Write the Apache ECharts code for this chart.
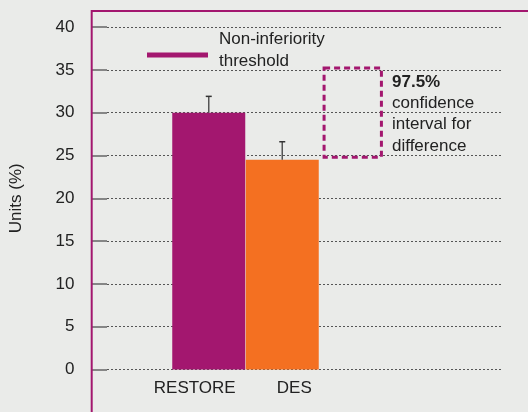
<!DOCTYPE html>
<html><head><meta charset="utf-8">
<script src="https://cdn.jsdelivr.net/npm/echarts@6/dist/echarts.min.js"></script>
<style>html,body{margin:0;padding:0;background:#eaebe9}#c{width:528px;height:412px}</style>
</head><body><div id="c"></div>
<script>
// ---- data ----
const categories = ['RESTORE', 'DES', ''];
const barValues = [30, 24.5];
const errorUpper = [31.9, 26.6];
const ciBox = [24.8, 35.2];           // 97.5% CI box (low, high), drawn in the empty third category
const yMin = 0, yMax = 40, yInterval = 5;
const legendLines = ['Non-inferiority', 'threshold'];
const noteLines = ['97.5%', 'confidence', 'interval for', 'difference'];
const yTitle = 'Units (%)';

// ---- styles ----
const MAGENTA = '#a3176f', ORANGE = '#f47021', TXT = '#222';
const FONT = 'Liberation Sans, Arial, Helvetica, sans-serif';
const barColors = [MAGENTA, ORANGE];
const labelPads = [[0, 28, 0, 0], [0, 0, 0, 24], [0, 0, 0, 0]];

const chart = echarts.init(document.getElementById('c'), null, {renderer: 'canvas'});

const option = {
  backgroundColor: '#eaebe9',
  animation: false,
  grid: [
    {left: 102, right: 26, top: 27, bottom: 42.5},
    {left: 172, width: 220.5, top: 27, bottom: 42.5}
  ],
  xAxis: [
    {type: 'value', gridIndex: 0, show: false, min: 0, max: 1},
    {type: 'category', gridIndex: 1,
     data: categories.map((c, i) => ({value: c, textStyle: {padding: labelPads[i]}})),
     axisLine: {show: false}, axisTick: {show: false},
     axisLabel: {fontSize: 17, color: TXT, fontFamily: FONT, margin: 10, interval: 0}}
  ],
  yAxis: [
    {type: 'value', gridIndex: 0, min: yMin, max: yMax, interval: yInterval, offset: 11,
     name: yTitle, nameLocation: 'middle', nameGap: 71, nameRotate: 90,
     nameTextStyle: {fontSize: 17, color: TXT, fontFamily: FONT},
     axisLine: {show: false},
     axisTick: {show: true, length: 15, lineStyle: {color: '#666', width: 1.5}},
     axisLabel: {fontSize: 17, color: TXT, fontFamily: FONT, margin: 21.5},
     splitLine: {show: true, lineStyle: {color: '#555', width: 1, type: [2, 2]}}},
    {type: 'value', gridIndex: 1, min: yMin, max: yMax, interval: yInterval, show: false,
     splitLine: {show: false}}
  ],
  series: [
    {type: 'bar', xAxisIndex: 1, yAxisIndex: 1, barWidth: 73, z: 2,
     data: barValues.map((v, i) => ({value: v, itemStyle: {color: barColors[i]}}))},
    {type: 'custom', xAxisIndex: 1, yAxisIndex: 1, z: 5,
     data: barValues.map((v, i) => [i, v, errorUpper[i]]),
     renderItem: function (params, api) {
       const x = api.value(0);
       const p1 = api.coord([x, api.value(1)]);
       const p2 = api.coord([x, api.value(2)]);
       return {type: 'group', children: [
         {type: 'line', shape: {x1: p1[0], y1: p1[1], x2: p2[0], y2: p2[1]}, style: {stroke: '#555', lineWidth: 1.5}},
         {type: 'line', shape: {x1: p2[0] - 3, y1: p2[1], x2: p2[0] + 3, y2: p2[1]}, style: {stroke: '#333', lineWidth: 1.5}}
       ]};
     }},
    {type: 'custom', xAxisIndex: 1, yAxisIndex: 1, z: 4,
     data: [[2, ciBox[0], ciBox[1]]],
     renderItem: function (params, api) {
       const c = api.value(0);
       const top = api.coord([c, api.value(2)]);
       const bot = api.coord([c, api.value(1)]);
       const w = api.size([1, 0])[0] * 0.78;
       return {type: 'rect',
         shape: {x: top[0] - w / 2 - 3, y: top[1], width: w, height: bot[1] - top[1]},
         style: {fill: 'none', stroke: MAGENTA, lineWidth: 3, lineDash: [6, 4]}};
     }}
  ],
  graphic: [
    {type: 'line', shape: {x1: 91.7, y1: 10, x2: 91.7, y2: 412}, style: {stroke: MAGENTA, lineWidth: 2}, z: 10},
    {type: 'line', shape: {x1: 91.7, y1: 11, x2: 528, y2: 11}, style: {stroke: MAGENTA, lineWidth: 2}, z: 10},
    {type: 'rect', shape: {x: 147, y: 52.5, width: 61, height: 5}, style: {fill: MAGENTA}, z: 10},
    {type: 'text', x: 219, y: 39.5, style: {text: legendLines[0], font: '17px ' + FONT, fill: TXT, verticalAlign: 'middle'}, z: 10},
    {type: 'text', x: 219, y: 61.5, style: {text: legendLines[1], font: '17px ' + FONT, fill: TXT, verticalAlign: 'middle'}, z: 10},
    {type: 'text', x: 392, y: 82.3, style: {text: noteLines[0], font: 'bold 17px ' + FONT, fill: TXT, verticalAlign: 'middle'}, z: 10},
    {type: 'text', x: 392, y: 103.5, style: {text: noteLines[1], font: '17px ' + FONT, fill: TXT, verticalAlign: 'middle'}, z: 10},
    {type: 'text', x: 392, y: 124.7, style: {text: noteLines[2], font: '17px ' + FONT, fill: TXT, verticalAlign: 'middle'}, z: 10},
    {type: 'text', x: 392, y: 145.9, style: {text: noteLines[3], font: '17px ' + FONT, fill: TXT, verticalAlign: 'middle'}, z: 10}
  ]
};
chart.setOption(option);
</script>
</body></html>
